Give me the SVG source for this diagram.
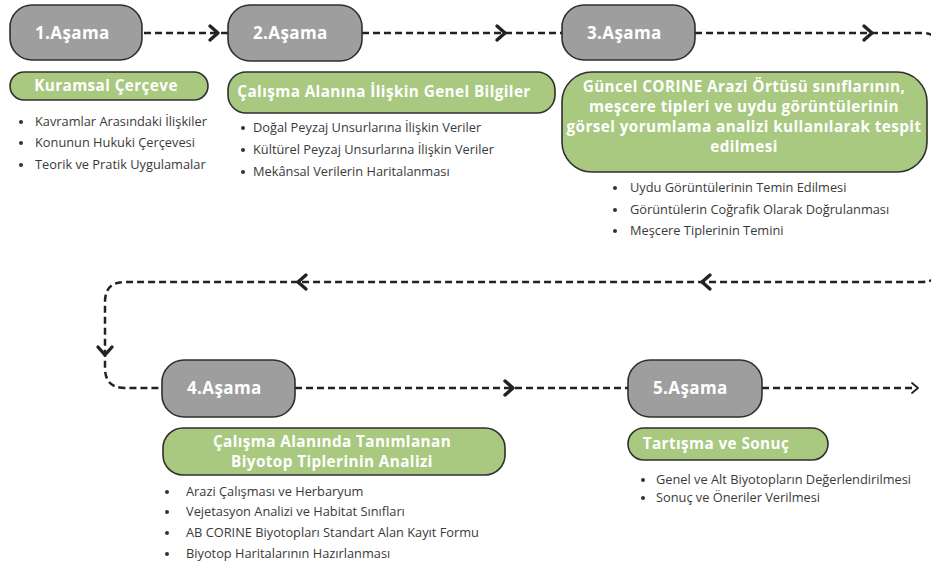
<svg xmlns="http://www.w3.org/2000/svg" width="931" height="567" viewBox="0 0 931 567">
<style>
.bg{fill:#ffffff}
.stage{fill:#9e9e9e;stroke:#2f2f2f;stroke-width:1.6}
.green{fill:#a8c97f;stroke:#2f2f2f;stroke-width:1.6}
.st{font-family:"Open Sans","Noto Sans",sans-serif;font-weight:700;font-size:17px;letter-spacing:0.4px;fill:#ffffff}
.gt{font-family:"Open Sans","Noto Sans",sans-serif;font-weight:700;font-size:15.3px;letter-spacing:0.4px;fill:#ffffff;text-anchor:middle}
.bt{font-family:"Open Sans","Noto Sans",sans-serif;font-size:12.8px;fill:#3a3a3a}
.dot{fill:#333333}
.line{fill:none;stroke:#222222;stroke-width:2.5;stroke-dasharray:7 4}
.head{fill:none;stroke:#222222;stroke-width:3.4;stroke-linecap:round;stroke-linejoin:round}
.head2{fill:none;stroke:#222222;stroke-width:1.8;stroke-linecap:round;stroke-linejoin:round}
</style>
<rect class="bg" x="0" y="0" width="931" height="567"/>
<g id="connectors">
<path class="line" d="M144,33 H228"/>
<path class="line" d="M362,33 H562"/>
<path class="line" d="M695,33 H922 Q940,33 940,51 V264 Q940,282 922,282 H125 Q105,282 105,302 V368 Q105,388 125,388 H162"/>
<path class="line" d="M295,388 H628"/>
<path class="line" d="M762,388 H916"/>
<path class="head" d="M210,26 L218,33 L210,40"/>
<path class="head" d="M497,26 L505,33 L497,40"/>
<path class="head" d="M864,26 L872,33 L864,40"/>
<path class="head" d="M710,275 L702,282 L710,289"/>
<path class="head" d="M306,275 L298,282 L306,289"/>
<path class="head" d="M98,347 L105,355 L112,347"/>
<path class="head" d="M505,381 L513,388 L505,395"/>
<path class="head2" d="M912,383 L918,388 L912,393"/>
</g>
<g id="stage1">
<rect class="stage" x="10" y="5" width="132" height="55" rx="22"/>
<text class="st" x="35" y="39">1.Aşama</text>
</g>
<g id="stage2">
<rect class="stage" x="228" y="5" width="134" height="56" rx="22"/>
<text class="st" x="253" y="39">2.Aşama</text>
</g>
<g id="stage3">
<rect class="stage" x="562" y="5" width="133" height="55" rx="22"/>
<text class="st" x="587" y="39">3.Aşama</text>
</g>
<g id="stage4">
<rect class="stage" x="162" y="360" width="133" height="57" rx="22"/>
<text class="st" x="187" y="394">4.Aşama</text>
</g>
<g id="stage5">
<rect class="stage" x="628" y="360" width="134" height="57" rx="22"/>
<text class="st" x="653" y="394">5.Aşama</text>
</g>
<g id="box1">
<rect class="green" x="10" y="72" width="198" height="28" rx="14"/>
<text class="gt" x="106" y="91">Kuramsal Çerçeve</text>
</g>
<g id="box2">
<rect class="green" x="228" y="72" width="327" height="41" rx="18"/>
<text class="gt" x="384" y="97">Çalışma Alanına İlişkin Genel Bilgiler</text>
</g>
<g id="box3">
<rect class="green" x="562" y="72" width="365" height="100" rx="30"/>
<text class="gt" x="744" y="92">Güncel CORINE Arazi Örtüsü sınıflarının,</text>
<text class="gt" x="744" y="112">meşcere tipleri ve uydu görüntülerinin</text>
<text class="gt" x="744" y="132">görsel yorumlama analizi kullanılarak tespit</text>
<text class="gt" x="744" y="152">edilmesi</text>
</g>
<g id="box4">
<rect class="green" x="163" y="428" width="342" height="47" rx="20"/>
<text class="gt" x="332" y="447">Çalışma Alanında Tanımlanan</text>
<text class="gt" x="332" y="467">Biyotop Tiplerinin Analizi</text>
</g>
<g id="box5">
<rect class="green" x="628" y="428" width="200" height="32" rx="16"/>
<text class="gt" x="716" y="449">Tartışma ve Sonuç</text>
</g>
<g id="list1">
<circle class="dot" cx="21" cy="122" r="2"/>
<circle class="dot" cx="21" cy="143" r="2"/>
<circle class="dot" cx="21" cy="165" r="2"/>
<text class="bt" x="35" y="126">Kavramlar Arasındaki İlişkiler</text>
<text class="bt" x="35" y="147">Konunun Hukuki Çerçevesi</text>
<text class="bt" x="35" y="169">Teorik ve Pratik Uygulamalar</text>
</g>
<g id="list2">
<circle class="dot" cx="243" cy="128" r="2"/>
<circle class="dot" cx="243" cy="150" r="2"/>
<circle class="dot" cx="243" cy="172" r="2"/>
<text class="bt" x="253" y="132">Doğal Peyzaj Unsurlarına İlişkin Veriler</text>
<text class="bt" x="253" y="154">Kültürel Peyzaj Unsurlarına İlişkin Veriler</text>
<text class="bt" x="253" y="176">Mekânsal Verilerin Haritalanması</text>
</g>
<g id="list3">
<circle class="dot" cx="615" cy="188" r="2"/>
<circle class="dot" cx="615" cy="210" r="2"/>
<circle class="dot" cx="615" cy="231" r="2"/>
<text class="bt" x="630" y="192">Uydu Görüntülerinin Temin Edilmesi</text>
<text class="bt" x="630" y="214">Görüntülerin Coğrafik Olarak Doğrulanması</text>
<text class="bt" x="630" y="235">Meşcere Tiplerinin Temini</text>
</g>
<g id="list4">
<circle class="dot" cx="167" cy="492" r="2"/>
<circle class="dot" cx="167" cy="512" r="2"/>
<circle class="dot" cx="167" cy="533" r="2"/>
<circle class="dot" cx="167" cy="554" r="2"/>
<text class="bt" x="186" y="496">Arazi Çalışması ve Herbaryum</text>
<text class="bt" x="186" y="516">Vejetasyon Analizi ve Habitat Sınıfları</text>
<text class="bt" x="186" y="537">AB CORINE Biyotopları Standart Alan Kayıt Formu</text>
<text class="bt" x="186" y="558">Biyotop Haritalarının Hazırlanması</text>
</g>
<g id="list5">
<circle class="dot" cx="643" cy="480" r="2"/>
<circle class="dot" cx="643" cy="498" r="2"/>
<text class="bt" x="656" y="484">Genel ve Alt Biyotopların Değerlendirilmesi</text>
<text class="bt" x="656" y="502">Sonuç ve Öneriler Verilmesi</text>
</g>
</svg>
